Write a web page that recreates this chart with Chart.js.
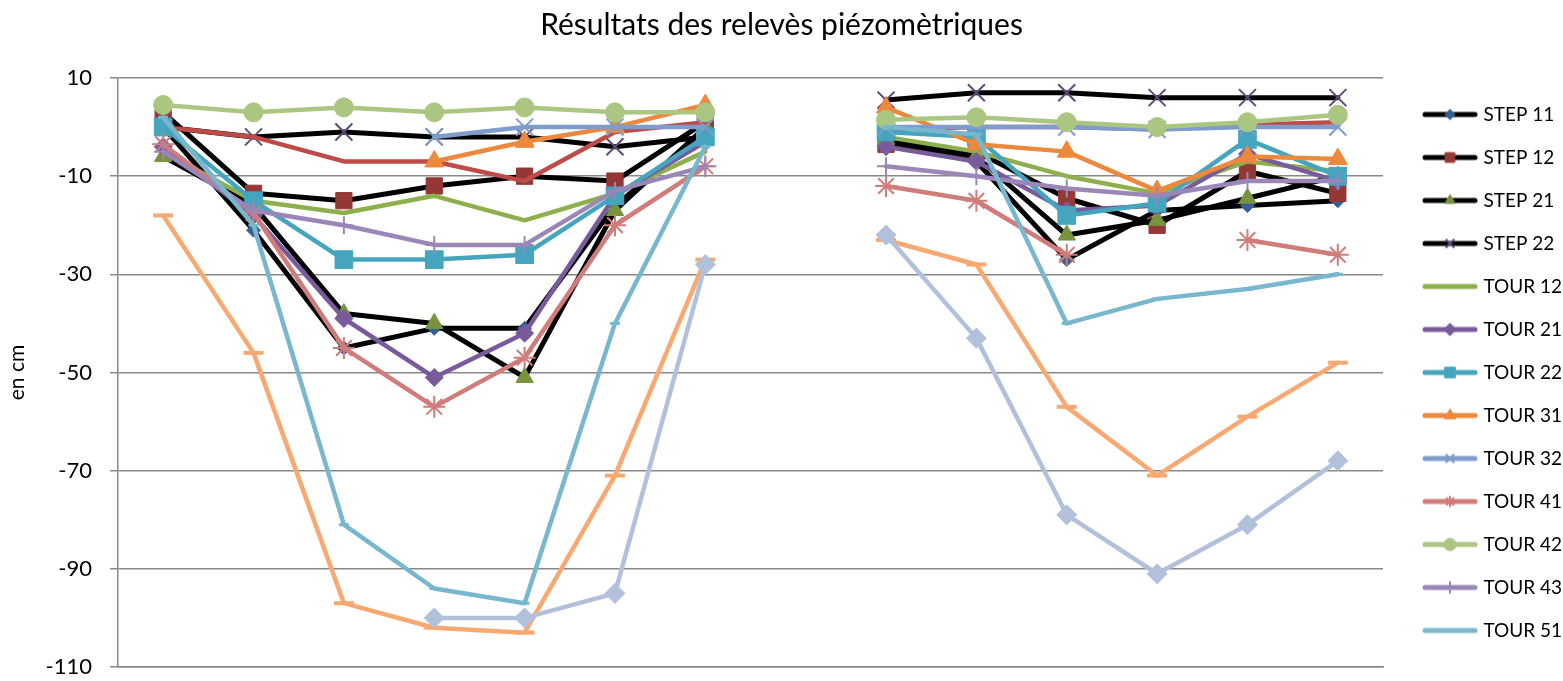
<!DOCTYPE html>
<html><head><meta charset="utf-8">
<script src="https://cdn.jsdelivr.net/npm/chart.js@4.4.0/dist/chart.umd.min.js"></script>
<style>html,body{margin:0;padding:0;background:#fff}#wrap{width:1563px;height:681px}</style>
</head><body><div id="wrap"><canvas id="c" width="1563" height="681"></canvas></div>
<script>
// ---------- DATA ----------
const categories = ['', '', '', '', '', '', '', '', '', '', '', '', '', ''];
const yTicks = [10, -10, -30, -50, -70, -90, -110];
const seriesNames = ['STEP 11', 'STEP 12', 'STEP 21', 'STEP 22', 'TOUR 12', 'TOUR 21', 'TOUR 22',
  'TOUR 31', 'TOUR 32', 'TOUR 41', 'TOUR 42', 'TOUR 43', 'TOUR 51', 'TOUR 52', 'TOUR 53', 'TOUR 54'];
const step11 = [0, -21, -45, -41, -41, -16, -1, null, -3, -7, -27, -17, -16, -15];
const step12 = [3, -13.5, -15, -12, -10, -11, 1, null, -3.5, -5, -14.5, -20, -9, -13.5];
const step21 = [-6, -16, -38, -40, -51, -17, 0, null, -2.5, -6, -22, -19, -14.5, -10];
const step22 = [0, -2, -1, -2, -2, -4, -2, null, 5.5, 7, 7, 6, 6, 6];
const tour12 = [-5, -15, -17.5, -14, -19, -13.5, -5, null, -2, -5, -10, -13.5, -7, -9];
const tour21 = [-4, -18, -39, -51, -42, -14, -3, null, -4, -7, -17, -16, -5.5, -11];
const tour22 = [0, -15, -27, -27, -26, -14, -2, null, -1, -2, -18, -15.5, -2.5, -10];
const tour31 = [null, null, null, -7, -3, 0, 4.5, null, 4, -3.5, -5, -13, -6, -6.5];
const tour32 = [null, null, null, -2, 0, 0, 0, null, 0, 0, 0, -0.5, 0, 0];
const tour41 = [-3.5, -17.5, -45, -57, -47, -20, -8, null, -12, -15, -26, null, -23, -26];
const tour42 = [4.5, 3, 4, 3, 4, 3, 3, null, 1.5, 2, 1, 0, 1, 2.5];
const tour43 = [-5, -17, -20, -24, -24, -13, -8, null, -8, -10, -12.5, -14, -11, -11];
const tour51 = [2, -20, -81, -94, -97, -40, -4, null, 0, -1.5, -40, -35, -33, -30];
const tour52 = [0, -2, -7, -7, -11, -1, 1, null, -0.5, 0, 0, -0.5, 0.5, 1];
const tour53 = [-18, -46, -97, -102, -103, -71, -27, null, -23, -28, -57, -71, -59, -48];
const tour54 = [null, null, null, -100, -100, -95, -28, null, -22, -43, -79, -91, -81, -68];
const seriesValues = [step11, step12, step21, step22, tour12, tour21, tour22, tour31, tour32,
  tour41, tour42, tour43, tour51, tour52, tour53, tour54];
const legendCount = 13;

// ---------- STYLES ----------
const styles = [
  {line: '#000000', w: 5, marker: '#376092', ps: 'rectRot', r: 7, bw: 1, z: 1},
  {line: '#000000', w: 5, marker: '#953735', ps: 'rect', r: 11.5, bw: 1, z: 2},
  {line: '#000000', w: 5, marker: '#77933C', ps: 'triangle', r: 10, bw: 1, z: 3},
  {line: '#000000', w: 5, marker: '#5F497A', ps: 'crossRot', r: 12, bw: 2, z: 4},
  {line: '#8DB04C', w: 4.5, marker: '#8DB04C', ps: 'circle', r: 0, bw: 0, z: 6},
  {line: '#795B9C', w: 4.5, marker: '#795B9C', ps: 'rectRot', r: 9, bw: 1, z: 7},
  {line: '#45A5BE', w: 4.5, marker: '#45A5BE', ps: 'rect', r: 12.5, bw: 1, z: 8},
  {line: '#EC893D', w: 4.5, marker: '#EC893D', ps: 'triangle', r: 11, bw: 1, z: 9},
  {line: '#7E9CCC', w: 4.5, marker: '#7E9CCC', ps: 'crossRot', r: 12, bw: 2, z: 10},
  {line: '#D07C7A', w: 4.5, marker: '#D07C7A', ps: 'star', r: 11, bw: 2, z: 11},
  {line: '#ABC681', w: 4.5, marker: '#ABC681', ps: 'circle', r: 9.5, bw: 1, z: 12},
  {line: '#9A87B8', w: 4.5, marker: '#9A87B8', ps: 'cross', r: 9, bw: 2, z: 13},
  {line: '#78B7CE', w: 4.5, marker: '#78B7CE', ps: 'line', r: 5, bw: 3, z: 14},
  {line: '#BE4B48', w: 4.5, marker: '#BE4B48', ps: 'circle', r: 0, bw: 0, z: 5},
  {line: '#F8A971', w: 4.5, marker: '#F8A971', ps: 'line', r: 10, bw: 4, z: 15},
  {line: '#B1C1DC', w: 4.5, marker: '#B1C1DC', ps: 'rectRot', r: 10, bw: 1, z: 16}
];
const legendMarkerScale = [0.75, 0.6, 0.6, 0.5, 0, 0.7, 0.6, 0.6, 0.5, 0.5, 0.65, 0.7, 0, 0, 0, 0];

const FONT = 'Lato';
const GRID = '#888888';

function legendImage(i) {
  const s = styles[i];
  const c = document.createElement('canvas');
  c.width = 56; c.height = 20;
  const g = c.getContext('2d');
  g.strokeStyle = s.line; g.lineWidth = 5; g.lineCap = 'round';
  g.beginPath(); g.moveTo(3, 10); g.lineTo(53, 10); g.stroke();
  const k = legendMarkerScale[i];
  if (k > 0 && s.r > 0) {
    g.fillStyle = s.marker; g.strokeStyle = s.marker;
    g.lineWidth = s.bw; g.lineCap = 'butt';
    Chart.helpers.drawPoint(g, {pointStyle: s.ps, radius: s.r * k, rotation: 0, borderWidth: s.bw}, 28, 10);
  }
  return c;
}

const datasets = seriesNames.map((name, i) => {
  const s = styles[i];
  return {
    label: name,
    data: seriesValues[i],
    borderColor: s.line,
    backgroundColor: s.line,
    borderWidth: s.w,
    borderJoinStyle: 'round',
    borderCapStyle: 'round',
    tension: 0,
    fill: false,
    spanGaps: false,
    pointStyle: s.ps,
    pointRadius: s.r,
    pointHoverRadius: s.r,
    pointBackgroundColor: s.marker,
    pointBorderColor: s.marker,
    pointBorderWidth: s.bw,
    order: 100 - s.z
  };
});

const legendWidthPlugin = {
  id: 'legendWidth',
  afterInit(chart) {
    const lg = chart.legend;
    if (lg) {
      const orig = lg.fit.bind(lg);
      lg.fit = function () { orig(); this.width = 161; };
    }
  }
};

new Chart(document.getElementById('c'), {
  type: 'line',
  data: {labels: categories, datasets},
  plugins: [legendWidthPlugin],
  options: {
    responsive: false,
    animation: false,
    devicePixelRatio: 1,
    layout: {padding: 0},
    plugins: {
      tooltip: {enabled: false},
      title: {
        display: true,
        text: 'Résultats des relevès piézomètriques',
        color: '#000',
        font: {family: FONT, size: 30, weight: 'normal'},
        padding: {top: 7, bottom: 35}
      },
      legend: {
        position: 'right',
        align: 'center',
        fullSize: false,
        labels: {
          usePointStyle: true,
          pointStyleWidth: 48,
          padding: 24,
          color: '#000',
          font: {family: FONT, size: 19},
          generateLabels(chart) {
            return chart.data.datasets.map((ds, i) => ({
              text: ds.label,
              datasetIndex: i,
              pointStyle: legendImage(i),
              fillStyle: ds.borderColor,
              strokeStyle: ds.borderColor,
              lineWidth: 0,
              hidden: false,
              fontColor: '#000'
            }));
          },
          filter: (item) => item.datasetIndex < legendCount,
          sort: (a, b) => a.datasetIndex - b.datasetIndex
        }
      }
    },
    scales: {
      x: {
        type: 'category',
        offset: true,
        grid: {display: false},
        border: {display: true, color: GRID, width: 1.5},
        ticks: {display: false},
        afterFit(s) { s.height = 11; s.paddingLeft = 0; s.paddingRight = 0; }
      },
      y: {
        type: 'linear',
        position: 'left',
        min: -110,
        max: 10,
        afterBuildTicks(s) { s.ticks = yTicks.map(v => ({value: v})); },
        grid: {color: GRID, lineWidth: 1.5, tickLength: 8, drawTicks: true},
        border: {display: true, color: GRID, width: 1.5},
        ticks: {color: '#000', font: {family: FONT, size: 22}, padding: 18},
        title: {display: true, text: 'en cm', color: '#000', font: {family: FONT, size: 21}, padding: {top: 5, bottom: 0}},
        afterFit(s) { s.width = 118; s.paddingTop = 0; s.paddingBottom = 0; }
      },
      yR: {
        type: 'linear',
        position: 'right',
        display: true,
        min: -110,
        max: 10,
        grid: {display: false},
        border: {display: false},
        ticks: {display: false},
        afterFit(s) { s.width = 19; s.paddingTop = 0; s.paddingBottom = 0; }
      }
    }
  }
});
</script>
</body></html>
